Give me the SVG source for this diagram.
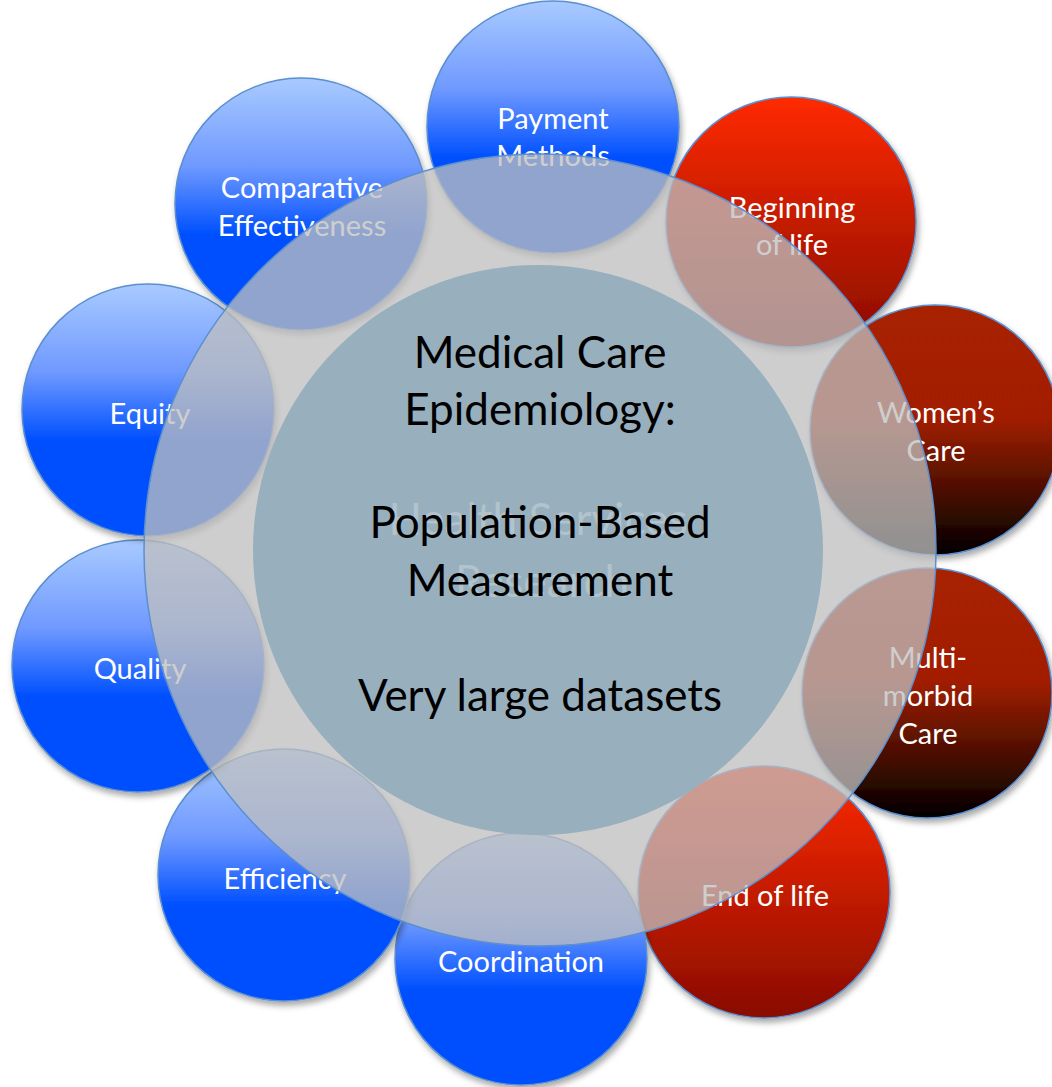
<svg xmlns="http://www.w3.org/2000/svg" width="1052" height="1087" viewBox="0 0 1052 1087">
<defs>
<linearGradient id="gBlue" x1="0" y1="0" x2="0" y2="1">
<stop offset="0" stop-color="#a9caff"/>
<stop offset="0.35" stop-color="#6f99ff"/>
<stop offset="0.62" stop-color="#0050ff"/>
<stop offset="1" stop-color="#0050ff"/>
</linearGradient>
<linearGradient id="gRed" x1="0" y1="0" x2="0" y2="1">
<stop offset="0" stop-color="#ff2a00"/>
<stop offset="1" stop-color="#880c00"/>
</linearGradient>
<linearGradient id="gDark" x1="0" y1="0" x2="0" y2="1">
<stop offset="0" stop-color="#a82000"/>
<stop offset="0.45" stop-color="#a21f00"/>
<stop offset="1" stop-color="#000000"/>
</linearGradient>
<filter id="shadow" x="-20%" y="-20%" width="140%" height="140%">
<feDropShadow dx="2" dy="4" stdDeviation="3" flood-color="#000" flood-opacity="0.35"/>
</filter>
</defs>
<style>
.sat{stroke:#5b8fcf;stroke-width:1.5;filter:url(#shadow)}
.blue{fill:url(#gBlue)}
.red{fill:url(#gRed)}
.dark{fill:url(#gDark)}
.lbl{font-family:Lato,"Liberation Sans",sans-serif;font-size:29px;fill:#ffffff;text-anchor:middle}
.main{font-family:Lato,"Liberation Sans",sans-serif;font-size:44px;fill:#000000;text-anchor:middle}
.ghost{font-family:Lato,"Liberation Sans",sans-serif;font-size:44px;fill:#ffffff;fill-opacity:0.25;text-anchor:middle}
</style>
<rect width="1052" height="1087" fill="#ffffff"/>
<g id="node-payment">
<circle class="sat blue" cx="553" cy="127" r="126"/>
<text class="lbl" x="553" y="129">Payment</text>
<text class="lbl" x="553" y="166">Methods</text>
</g>
<g id="node-beginning">
<circle class="sat red" cx="791" cy="222" r="125"/>
<text class="lbl" x="792" y="218">Beginning</text>
<text class="lbl" x="792" y="255">of life</text>
</g>
<g id="node-women">
<circle class="sat dark" cx="935" cy="430" r="125"/>
<text class="lbl" x="936" y="423">Women’s</text>
<text class="lbl" x="936" y="461">Care</text>
</g>
<g id="node-multimorbid">
<circle class="sat dark" cx="927" cy="693" r="125"/>
<text class="lbl" x="928" y="668">Multi-</text>
<text class="lbl" x="928" y="706">morbid</text>
<text class="lbl" x="928" y="744">Care</text>
</g>
<g id="node-endoflife">
<circle class="sat red" cx="764" cy="892" r="126"/>
<text class="lbl" x="765" y="906">End of life</text>
</g>
<g id="node-coordination">
<circle class="sat blue" cx="521" cy="959" r="126"/>
<text class="lbl" x="521" y="972">Coordination</text>
</g>
<g id="node-efficiency">
<circle class="sat blue" cx="284" cy="875" r="126"/>
<text class="lbl" x="285" y="889">Efficiency</text>
</g>
<g id="node-quality">
<circle class="sat blue" cx="138" cy="666" r="126"/>
<text class="lbl" x="140" y="679">Quality</text>
</g>
<g id="node-equity">
<circle class="sat blue" cx="148" cy="410" r="126"/>
<text class="lbl" x="150" y="424">Equity</text>
</g>
<g id="node-comparative">
<circle class="sat blue" cx="301" cy="204" r="126"/>
<text class="lbl" x="302" y="198">Comparative</text>
<text class="lbl" x="302" y="236">Effectiveness</text>
</g>
<g id="node-hsr">
<circle cx="540" cy="550" r="396" fill="#bebebe" fill-opacity="0.76" stroke="#5b8fcf" stroke-width="1.5"/>
</g>
<g id="node-center">
<circle cx="538" cy="550" r="285" fill="#98afbd"/>
<text class="ghost" x="538" y="535">Health Services</text>
<text class="ghost" x="542" y="597">Research</text>
<text class="main" x="540" y="368">Medical Care</text>
<text class="main" x="540" y="425">Epidemiology:</text>
<text class="main" x="540" y="538">Population-Based</text>
<text class="main" x="540" y="596">Measurement</text>
<text class="main" x="540" y="711">Very large datasets</text>
</g>
</svg>
